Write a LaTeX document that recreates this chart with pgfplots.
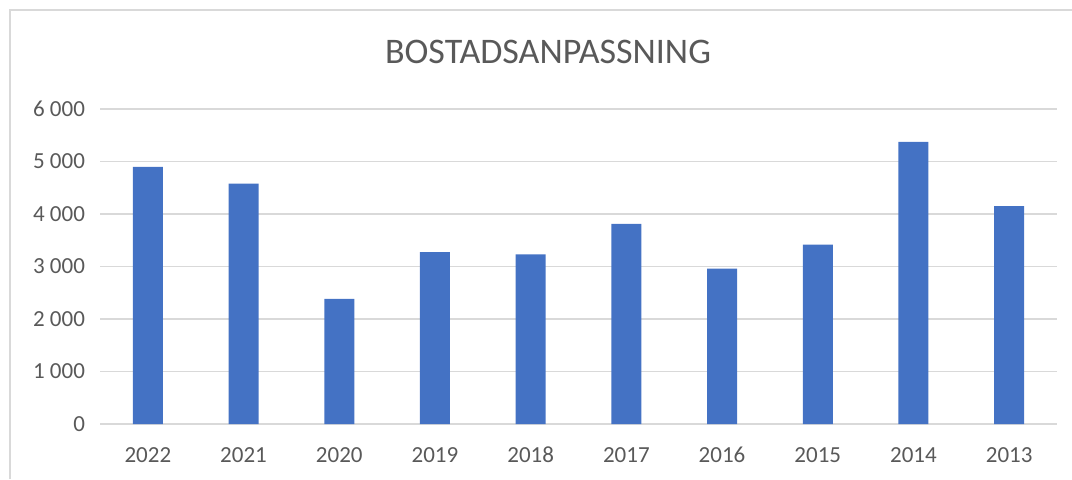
\documentclass[border=0pt]{standalone}
\usepackage{pgfplots}
\pgfplotsset{compat=1.18}
\usepackage{fontspec}
\setmainfont{Carlito}
\definecolor{BarBlue}{HTML}{4472C4}
\definecolor{TextGray}{HTML}{595959}
\definecolor{GridGray}{HTML}{D9D9D9}

\begin{document}
\begin{tikzpicture}
  % canvas: 1 px of the reference = 0.5pt
  \path[use as bounding box] (0,0) rectangle (536pt,239.5pt);
  \draw[GridGray, line width=1pt] (5pt,0) -- (5pt,234.5pt) -- (536pt,234.5pt);
  \node[TextGray, font=\fontsize{18}{20}\selectfont] at (274pt,213.5pt) {BOSTADSANPASSNING};
  \begin{axis}[
    at={(50pt,27.5pt)}, anchor=south west,
    scale only axis, width=478.5pt, height=157.5pt,
    ybar, bar width=15pt,
    xmin=-0.5, xmax=9.5, ymin=0, ymax=6000,
    xtick=data,
    xticklabels={2022,2021,2020,2019,2018,2017,2016,2015,2014,2013},
    ytick={0,1000,...,6000},
    yticklabels={0,1 000,2 000,3 000,4 000,5 000,6 000},
    ymajorgrids, grid style={GridGray, line width=0.9pt},
    axis x line*=bottom, axis y line*=left,
    x axis line style={GridGray, line width=0.9pt},
    y axis line style={draw=none},
    tick style={draw=none},
    ticklabel style={TextGray, font=\fontsize{11.5}{13}\selectfont},
    xticklabel style={yshift=-4pt, text height=1.6ex, text depth=0pt},
    yticklabel style={xshift=-4pt},
    ]
  \addplot[fill=BarBlue, draw=none] coordinates {
    (0,4900) (1,4580) (2,2385) (3,3275) (4,3230)
    (5,3810) (6,2960) (7,3415) (8,5375) (9,4150)
  };
  \end{axis}
\end{tikzpicture}
\end{document}
